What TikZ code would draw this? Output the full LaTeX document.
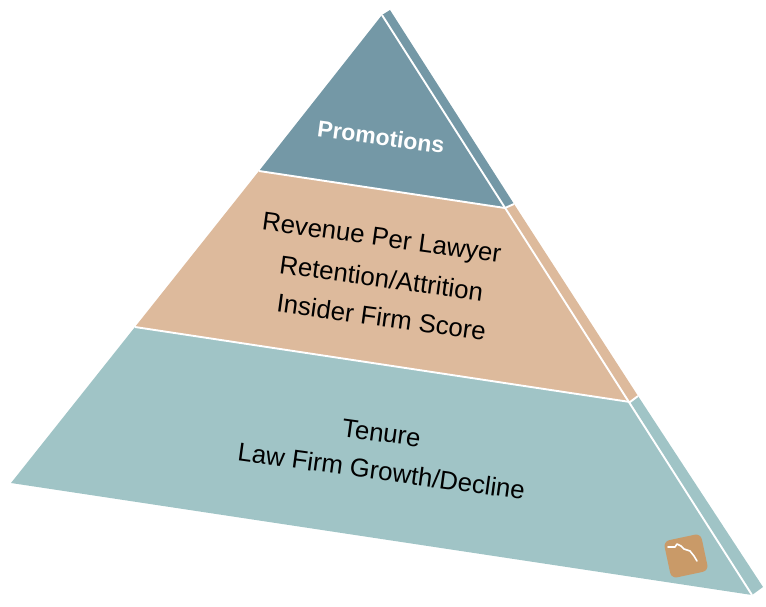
\documentclass[tikz,border=0pt]{standalone}
\usepackage{fontspec}
\setmainfont{Liberation Sans}
\definecolor{topc}{HTML}{7498A6}
\definecolor{midc}{HTML}{DDBA9C}
\definecolor{lowc}{HTML}{A0C4C6}
\definecolor{logoc}{HTML}{C99A68}
\tikzset{
  lab/.style={font=\fontsize{25.8}{30}\selectfont, text=black, rotate=-7.8, inner sep=0pt},
  toplab/.style={font=\fontsize{23}{28}\selectfont\bfseries, text=white, rotate=-7.6, inner sep=0pt},
  gap/.style={draw=white, line width=1.9pt}
}
\begin{document}
\begin{tikzpicture}[x=1pt,y=-1pt]
\useasboundingbox (0,0) rectangle (766,607);
% side strip
\fill[topc] (382,15) -- (390,10) -- (514,204) -- (505,208) -- cycle;
\fill[midc] (505,208) -- (514,204) -- (638,396) -- (630,402) -- cycle;
\fill[lowc] (630,402) -- (638,396) -- (763,587) -- (752,595) -- cycle;
% front
\fill[topc] (382,15) -- (505,208) -- (259,171) -- cycle;
\fill[midc] (259,171) -- (505,208) -- (630,402) -- (135,327) -- cycle;
\fill[lowc] (135,327) -- (630,402) -- (752,595) -- (11,483) -- cycle;
% dividers
\draw[gap] (259,171) -- (505,208) -- (514,204);
\draw[gap] (135,327) -- (630,402) -- (638,396);
\draw[gap] (382,15) -- (752,595);
% logo
\begin{scope}[shift={(686,556)},rotate=12]
\fill[logoc,rounded corners=6pt] (-19,-19) rectangle (19,19);
\end{scope}
\draw[white,line width=1.6pt,line cap=round,line join=round]
  (668,547) -- (675,547) -- (677,544) -- (681,546) -- (684,549) -- (690,551) -- (694,556) -- (697,561);
% text
\node[toplab] (promo) at (381,137) {Promotions};
\node[lab] (rev) at (381.5,240) {Revenue Per Lawyer};
\node[lab] (ret) at (381.5,278) {Retention/Attrition};
\node[lab] (ins) at (381.5,317) {Insider Firm Score};
\node[lab] (ten) at (381.5,433) {Tenure};
\node[lab] (law) at (381.5,471) {Law Firm Growth/Decline};
\end{tikzpicture}
\end{document}
